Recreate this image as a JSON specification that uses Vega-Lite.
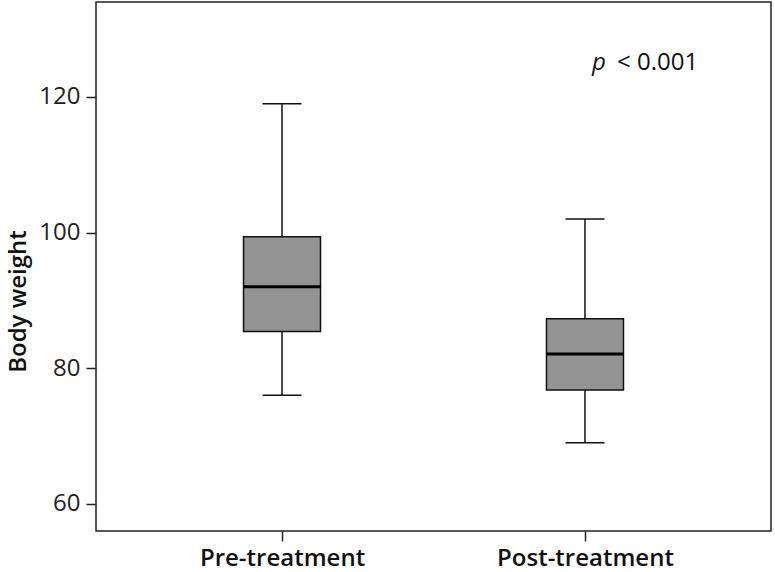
{
  "$schema": "https://vega.github.io/schema/vega-lite/v6.json",
  "width": 675,
  "height": 529,
  "autosize": {"type": "none"},
  "padding": {"left": 96, "top": 2, "right": 4, "bottom": 41},
  "config": {
    "font": "Open Sans",
    "view": {"stroke": "#222", "strokeWidth": 1.5},
    "axis": {"grid": false, "domain": false, "tickColor": "#222", "tickWidth": 1.5, "tickSize": 10, "labelColor": "#222", "titleColor": "#111"}
  },
  "datasets": {
    "stats": [
      {"group": "Pre-treatment", "lower": 76, "q1": 85.4, "median": 92, "q3": 99.4, "upper": 119},
      {"group": "Post-treatment", "lower": 69, "q1": 76.8, "median": 82.1, "q3": 87.3, "upper": 102}
    ],
    "note": [
      {"group": "Post-treatment", "y": 125, "p": "p", "rest": "< 0.001"}
    ]
  },
  "encoding": {
    "x": {
      "field": "group", "type": "nominal", "sort": ["Pre-treatment", "Post-treatment"],
      "scale": {"type": "point", "padding": 0.614},
      "axis": {"title": null, "labelAngle": 0, "labelFontSize": 24, "labelFontWeight": 600, "labelPadding": 5, "labelColor": "#111"}
    }
  },
  "layer": [
    {
      "data": {"name": "stats"},
      "mark": {"type": "rule", "color": "#111", "strokeWidth": 1.5},
      "encoding": {
        "y": {"field": "lower", "type": "quantitative", "scale": {"domain": [56, 134], "nice": false, "zero": false},
          "axis": {"values": [60, 80, 100, 120], "title": "Body weight", "titleFontSize": 24, "titleFontWeight": 600, "labelFontSize": 24, "labelPadding": 6, "titlePadding": 8, "titleY": 299}},
        "y2": {"field": "upper"}
      }
    },
    {
      "data": {"name": "stats"},
      "mark": {"type": "bar", "size": 77, "fill": "#939393", "stroke": "#111", "strokeWidth": 1.5},
      "encoding": {
        "y": {"field": "q1", "type": "quantitative"},
        "y2": {"field": "q3"}
      }
    },
    {
      "data": {"name": "stats"},
      "mark": {"type": "tick", "size": 77, "thickness": 3, "color": "#000", "opacity": 1},
      "encoding": {"y": {"field": "median", "type": "quantitative"}}
    },
    {
      "data": {"name": "stats"},
      "mark": {"type": "tick", "size": 39, "thickness": 1.5, "color": "#111", "opacity": 1},
      "encoding": {"y": {"field": "lower", "type": "quantitative"}}
    },
    {
      "data": {"name": "stats"},
      "mark": {"type": "tick", "size": 39, "thickness": 1.5, "color": "#111", "opacity": 1},
      "encoding": {"y": {"field": "upper", "type": "quantitative"}}
    },
    {
      "data": {"name": "note"},
      "mark": {"type": "text", "align": "left", "baseline": "middle", "fontSize": 24, "fontStyle": "italic", "dx": 7, "color": "#111"},
      "encoding": {"y": {"field": "y", "type": "quantitative"}, "text": {"field": "p"}}
    },
    {
      "data": {"name": "note"},
      "mark": {"type": "text", "align": "left", "baseline": "middle", "fontSize": 24, "dx": 32, "color": "#111"},
      "encoding": {"y": {"field": "y", "type": "quantitative"}, "text": {"field": "rest"}}
    }
  ]
}
